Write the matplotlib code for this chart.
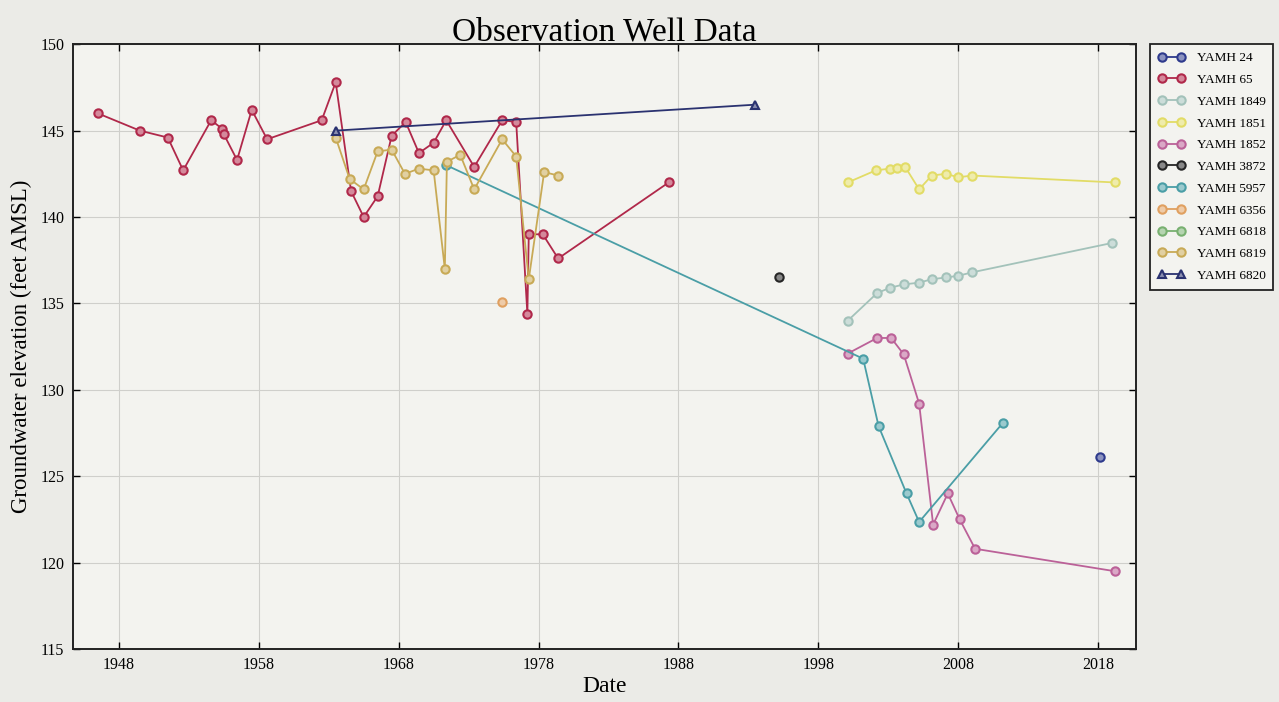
import matplotlib
matplotlib.use("Agg")
import matplotlib.pyplot as plt
from matplotlib.colors import to_rgb

plt.rcParams['font.family'] = ['Liberation Serif', 'DejaVu Serif']

# Well readings, dates as decimal years, elevation in feet AMSL

yamh24_x = [2018.1]
yamh24_y = [126.1]

yamh65_x = [1946.5, 1949.5, 1951.5, 1952.6, 1954.6, 1955.4, 1955.5, 1956.45, 1957.5, 1958.6,
            1962.5, 1963.5, 1964.6, 1965.5, 1966.5, 1967.5, 1968.5, 1969.45, 1970.5, 1971.4,
            1973.4, 1975.4, 1976.4, 1977.2, 1977.3, 1978.3, 1979.4, 1987.3]
yamh65_y = [146.0, 145.0, 144.6, 142.7, 145.6, 145.1, 144.8, 143.3, 146.2, 144.5,
            145.6, 147.8, 141.5, 140.0, 141.2, 144.7, 145.5, 143.7, 144.3, 145.6,
            142.9, 145.6, 145.5, 134.4, 139.0, 139.0, 137.6, 142.0]

yamh1849_x = [2000.1, 2002.2, 2003.1, 2004.1, 2005.2, 2006.1, 2007.1, 2008.0, 2009.0, 2019.0]
yamh1849_y = [134.0, 135.6, 135.9, 136.1, 136.2, 136.4, 136.5, 136.6, 136.8, 138.5]

yamh1851_x = [2000.1, 2002.1, 2003.1, 2003.6, 2004.2, 2005.2, 2006.1, 2007.1, 2008.0, 2009.0, 2019.2]
yamh1851_y = [142.0, 142.7, 142.8, 142.85, 142.9, 141.6, 142.4, 142.5, 142.3, 142.4, 142.0]

yamh1852_x = [2000.1, 2002.2, 2003.2, 2004.1, 2005.2, 2006.2, 2007.25, 2008.1, 2009.2, 2019.2]
yamh1852_y = [132.1, 133.0, 133.0, 132.05, 129.2, 122.2, 124.0, 122.5, 120.8, 119.5]

yamh3872_x = [1995.2]
yamh3872_y = [136.5]

yamh5957_x = [1971.4, 2001.2, 2002.3, 2004.3, 2005.2, 2011.2]
yamh5957_y = [143.0, 131.8, 127.9, 124.0, 122.35, 128.1]

yamh6356_x = [1975.4]
yamh6356_y = [135.1]

yamh6818_x = []
yamh6818_y = []

yamh6819_x = [1963.5, 1964.5, 1965.5, 1966.5, 1967.5, 1968.45, 1969.45, 1970.5, 1971.3, 1971.45,
              1972.4, 1973.4, 1975.4, 1976.4, 1977.3, 1978.4, 1979.4]
yamh6819_y = [144.6, 142.2, 141.6, 143.8, 143.9, 142.5, 142.8, 142.7, 137.0, 143.2,
              143.6, 141.6, 144.5, 143.5, 136.4, 142.6, 142.4]

yamh6820_x = [1963.5, 1993.45]
yamh6820_y = [145.0, 146.5]

year_ticks = [1948, 1958, 1968, 1978, 1988, 1998, 2008, 2018]
elev_ticks = [115, 120, 125, 130, 135, 140, 145, 150]

wells = [
    ("YAMH 24", yamh24_x, yamh24_y, '#2e3a8c', 'o'),
    ("YAMH 65", yamh65_x, yamh65_y, '#b0284a', 'o'),
    ("YAMH 1849", yamh1849_x, yamh1849_y, '#a3c2ba', 'o'),
    ("YAMH 1851", yamh1851_x, yamh1851_y, '#e2dc66', 'o'),
    ("YAMH 1852", yamh1852_x, yamh1852_y, '#bb6198', 'o'),
    ("YAMH 3872", yamh3872_x, yamh3872_y, '#262626', 'o'),
    ("YAMH 5957", yamh5957_x, yamh5957_y, '#4a9ea6', 'o'),
    ("YAMH 6356", yamh6356_x, yamh6356_y, '#e0a060', 'o'),
    ("YAMH 6818", yamh6818_x, yamh6818_y, '#78b070', 'o'),
    ("YAMH 6819", yamh6819_x, yamh6819_y, '#c8aa56', 'o'),
    ("YAMH 6820", yamh6820_x, yamh6820_y, '#2a3270', '^'),
]


def lighter(c, f=0.45):
    r, g, b = to_rgb(c)
    return (r + (1 - r) * f, g + (1 - g) * f, b + (1 - b) * f)


fig = plt.figure(figsize=(12.79, 7.02), dpi=100, facecolor='#ebebe7')
ax = fig.add_axes([0.0568, 0.0755, 0.8314, 0.8615], facecolor='#f3f3ef')

for name, xs, ys, col, mk in wells:
    ax.plot(xs, ys, color=col, marker=mk, markersize=6, markeredgewidth=1.5,
            markeredgecolor=col, markerfacecolor=lighter(col), lw=1.3, label=name)

ax.set_xlim(1944.7, 2020.7)
ax.set_ylim(115, 150)
ax.set_xticks(year_ticks)
ax.set_yticks(elev_ticks)
ax.tick_params(direction='in', top=True, right=True, labelsize=11.5, length=5, width=1, pad=6)
ax.grid(True, color='#cfcfcb', lw=0.8)
ax.set_axisbelow(True)
for s in ax.spines.values():
    s.set_linewidth(1.4)
    s.set_color('#222222')

ax.set_title("Observation Well Data", fontsize=24, pad=3)
ax.set_xlabel("Date", fontsize=17, labelpad=2)
ax.set_ylabel("Groundwater elevation (feet AMSL)", fontsize=16.5, labelpad=6)

leg = ax.legend(loc='upper left', bbox_to_anchor=(1.0135, 1.0), fontsize=9.5, numpoints=2,
                handlelength=2.0, handletextpad=0.9, labelspacing=0.72, borderaxespad=0,
                borderpad=0.6, fancybox=False, edgecolor='#222222', framealpha=1,
                facecolor='#f3f3ef')
leg.get_frame().set_linewidth(1.3)

fig.savefig("out.png", dpi=100, facecolor=fig.get_facecolor())
